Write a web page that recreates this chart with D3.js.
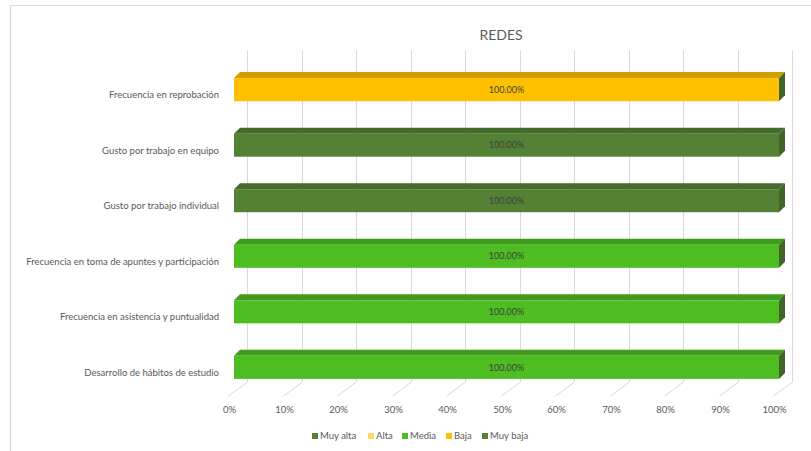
<!DOCTYPE html>
<html>
<head>
<meta charset="utf-8">
<script src="https://cdn.jsdelivr.net/npm/d3@7"></script>
<style>
  body { margin: 0; background: #fff; }
  svg { font-family: Lato, "Open Sans", sans-serif; }
</style>
</head>
<body>
<div id="chart"></div>
<script>
var categories = [
  "Desarrollo de hábitos de estudio",
  "Frecuencia en asistencia y puntualidad",
  "Frecuencia en toma de apuntes y participación",
  "Gusto por trabajo individual",
  "Gusto por trabajo en equipo",
  "Frecuencia en reprobación"
];
var seriesNames = ["Muy alta", "Alta", "Media", "Baja", "Muy baja"];
var seriesColors = ["#548235", "#FFD966", "#4DBD21", "#FFC000", "#548235"];
// share per category, in seriesNames order
var muyAlta = [0, 0, 0, 1, 1, 0];
var alta    = [0, 0, 0, 0, 0, 0];
var media   = [1, 1, 1, 0, 0, 0];
var baja    = [0, 0, 0, 0, 0, 1];
var muyBaja = [0, 0, 0, 0, 0, 0];
var xTicks = d3.range(0, 1.0001, 0.1);

var W = 811, H = 451;
var svg = d3.select("#chart").append("svg").attr("width", W).attr("height", H);

// chart frame
svg.append("path").attr("d", "M10.5,451 V5.5 H811").attr("fill", "none")
  .attr("stroke", "#d9d9d9").attr("stroke-width", 1.2);

svg.append("text").attr("x", 501).attr("y", 40).attr("text-anchor", "middle")
  .attr("font-size", 14).attr("fill", "#595959").text("REDES");

var rows = categories.map(function (c, i) {
  return { cat: c, "Muy alta": muyAlta[i], "Alta": alta[i], "Media": media[i], "Baja": baja[i], "Muy baja": muyBaja[i] };
});
var stack = d3.stack().keys(seriesNames)(rows);

var x = d3.scaleLinear().domain([0, 1]).range([234, 779]);
var y = d3.scaleBand().domain(categories.slice().reverse()).range([62, 395]).paddingInner(0.585).paddingOuter(0.29);

// depth offsets
var wallDx = 13, wallTop = 50, wallBottom = 382;
var floorDx = -19, floorDy = 14;
var barDx = 6, barDy = -6;

// back wall gridlines + floor lines
xTicks.forEach(function (t) {
  var wx = Math.round(x(t) + wallDx) + 0.5;
  svg.append("line").attr("x1", wx).attr("x2", wx).attr("y1", wallTop).attr("y2", wallBottom)
    .attr("stroke", "#d9d9d9").attr("stroke-width", 1);
  svg.append("line").attr("x1", wx).attr("y1", wallBottom).attr("x2", wx + floorDx).attr("y2", wallBottom + floorDy)
    .attr("stroke", "#d9d9d9").attr("stroke-width", 1);
  svg.append("text").attr("x", wx + floorDx + 1).attr("y", wallBottom + floorDy + 17)
    .attr("text-anchor", "middle").attr("font-size", 9.5).attr("fill", "#595959")
    .text(d3.format(".0%")(t));
});

// bars
var h = y.bandwidth();
stack.forEach(function (s, si) {
  var col = seriesColors[si];
  var dark = d3.color(col).darker(0.55);
  s.forEach(function (d) {
    if (d[1] - d[0] <= 0) return;
    var x0 = x(d[0]), x1 = x(d[1]), yt = y(d.data.cat);
    svg.append("polygon")
      .attr("points", [[x0, yt], [x0 + barDx, yt + barDy], [x1 + barDx, yt + barDy], [x1, yt]].join(" "))
      .attr("fill", dark);
    svg.append("rect").attr("x", x0).attr("y", yt).attr("width", x1 - x0).attr("height", h).attr("fill", col);
  });
});
// end caps
var endDark = d3.color(seriesColors[4]).darker(0.7);
rows.forEach(function (r) {
  var tot = d3.sum(seriesNames, function (k) { return r[k]; });
  var xe = x(tot), yt = y(r.cat);
  svg.append("polygon")
    .attr("points", [[xe, yt], [xe + barDx, yt + barDy], [xe + barDx, yt + h + barDy], [xe, yt + h]].join(" "))
    .attr("fill", endDark);
  svg.append("text").attr("x", (x(0) + xe) / 2).attr("y", yt + h / 2).attr("dy", "0.35em")
    .attr("text-anchor", "middle").attr("font-size", 9).attr("fill", "#404040")
    .text(d3.format(".2%")(tot));
});

// category labels (sit a little below the bar face centre)
categories.forEach(function (c) {
  svg.append("text").attr("x", 219).attr("y", y(c) + h / 2 + 5).attr("dy", "0.35em")
    .attr("text-anchor", "end").attr("font-size", 9.5).attr("fill", "#595959").text(c);
});

// legend
var legX = [312, 368, 402, 446, 482];
seriesNames.forEach(function (n, i) {
  svg.append("rect").attr("x", legX[i]).attr("y", 433).attr("width", 6).attr("height", 6).attr("fill", seriesColors[i]);
  svg.append("text").attr("x", legX[i] + 8).attr("y", 436).attr("dy", "0.35em")
    .attr("font-size", 9.5).attr("fill", "#595959").text(n);
});
</script>
</body>
</html>
